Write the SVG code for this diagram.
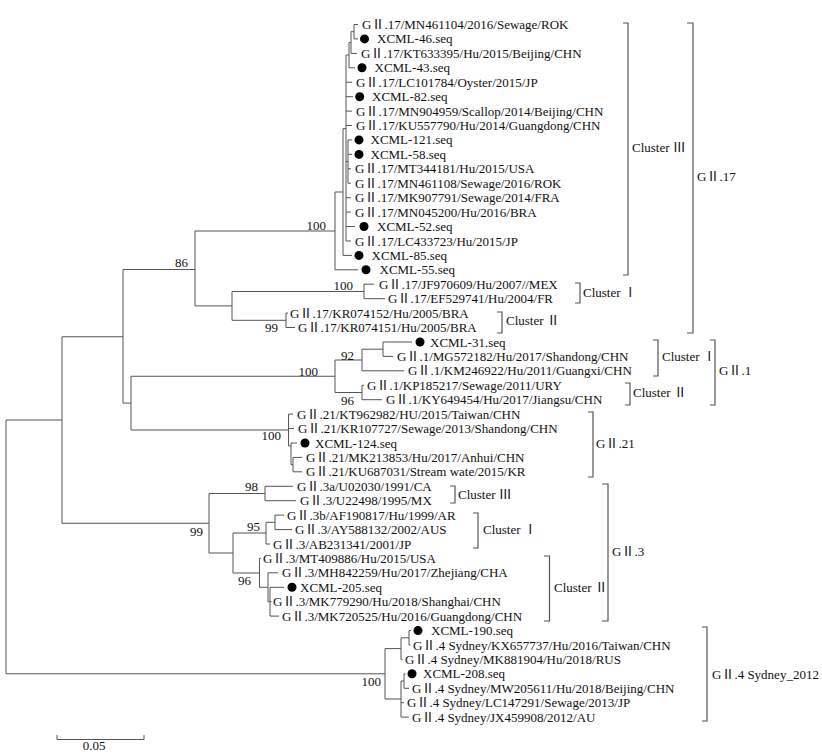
<svg xmlns="http://www.w3.org/2000/svg" width="822" height="755" viewBox="0 0 822 755">
<style>
text{font-family:"Liberation Serif","Noto Sans CJK SC",serif;font-size:13px;fill:#111}
.bs{text-anchor:end}
.ln{fill:none;stroke:#555;stroke-width:1}
.br{fill:none;stroke:#555;stroke-width:1.2}
.dot{fill:#000}
</style>
<rect width="822" height="755" fill="#fff"/>
<g id="connectors" class="ln">
<path d="M6 420V673.8M6 420H62M6 673.8H385"/>
<path d="M62 336.75V523.25M62 336.75H123M62 523.25H209"/>
<path d="M123 269.5V403.1M123 269.5H195M123 403.1H131"/>
<path d="M195 231V305.9M195 231H335M195 305.9H232"/>
<path d="M335 192V269.8M335 192H343M335 269.8H358"/>
<path d="M343 128.6V255.4M343 128.6H346M343 255.4H352"/>
<path d="M346 55V241M346 161.5H348M346 55H349"/>
<path d="M348 139.9V183.2"/>
<path d="M349 42.5V67.8M349 42.5H351M349 67.8H355"/>
<path d="M351 31.7V53.4M351 31.7H354M351 53.4H357"/>
<path d="M354 24.5V38.9M354 24.5H358M354 38.9H358"/>
<path d="M346 82.2H352M346 96.7H353M346 111.1H352M346 125.5H352M348 139.9H352M348 154.4H352M348 168.8H351M348 183.2H351M346 197.7H351M346 212.1H351M346 226.5H355M346 241H351"/>
<path d="M232 291.5V320.3M232 291.5H364M232 320.3H286"/>
<path d="M364 284.2V298.7M364 284.2H374M364 298.7H385"/>
<path d="M286 313.1V327.5M286 313.1H288M286 327.5H295"/>
<path d="M131 376.25V430M131 376.25H335M131 430H288.5"/>
<path d="M335 360V392.5M335 360H362M335 392.5H362"/>
<path d="M362 349.2V370.8M362 349.2H383M362 370.8H404"/>
<path d="M383 342V356.4M383 342H412M383 356.4H393"/>
<path d="M362 385.3V399.7M362 385.3H364M362 399.7H382"/>
<path d="M288.5 414.1V445.9M288.5 414.1H293M288.5 428.5H294M288.5 445.9H291"/>
<path d="M291 443V464.6M291 443H297M291 464.6H293"/>
<path d="M293 457.4V471.8M293 457.4H302M293 471.8H302"/>
<path d="M209 493.5V553M209 493.5H265M209 553H233"/>
<path d="M265 486.3V500.7M265 486.3H293M265 500.7H296"/>
<path d="M233 533V573M233 533H266M233 573H259.5"/>
<path d="M266 522.3V544M266 522.3H275M266 544H270"/>
<path d="M275 515.1V529.6M275 515.1H284M275 529.6H292"/>
<path d="M259.5 558.4V587.3M259.5 558.4H261M259.5 587.3H268"/>
<path d="M268 572.8V601.7M268 572.8H278M268 601.7H270"/>
<path d="M270 587.3V616.1M270 587.3H284M270 601.7H271.5M270 616.1H279"/>
<path d="M385 648.6V699M385 648.6H401M385 699H401"/>
<path d="M401 637.8V659.4M401 637.8H409M401 659.4H402.5"/>
<path d="M409 630.6V645M409 630.6H411M409 645H410.5"/>
<path d="M401 681V717.1M401 681H404M401 702.7H404M401 717.1H409"/>
<path d="M404 673.8V688.3M404 673.8H405.5M404 688.3H409"/>
</g>
<g id="bootstrap">
<text class="bs" x="326" y="229.5">100</text>
<text class="bs" x="188" y="267">86</text>
<text class="bs" x="353" y="289.5">100</text>
<text class="bs" x="278" y="331.5">99</text>
<text class="bs" x="354" y="359.5">92</text>
<text class="bs" x="318" y="376">100</text>
<text class="bs" x="354" y="404.5">96</text>
<text class="bs" x="281" y="439.5">100</text>
<text class="bs" x="258" y="491">98</text>
<text class="bs" x="203" y="535.5">99</text>
<text class="bs" x="260" y="531">95</text>
<text class="bs" x="251" y="584.5">96</text>
<text class="bs" x="381" y="686">100</text>
</g>
<g id="leaf-MN461104"><text x="362" y="29">GⅡ.17/MN461104/2016/Sewage/ROK</text></g>
<g id="leaf-XCML-46"><circle class="dot" cx="364.5" cy="38.9" r="4.5"/><text x="377" y="43.4">XCML-46.seq</text></g>
<g id="leaf-KT633395"><text x="361" y="57.9">GⅡ.17/KT633395/Hu/2015/Beijing/CHN</text></g>
<g id="leaf-XCML-43"><circle class="dot" cx="362" cy="67.8" r="4.5"/><text x="374.5" y="72.3">XCML-43.seq</text></g>
<g id="leaf-LC101784"><text x="356" y="86.7">GⅡ.17/LC101784/Oyster/2015/JP</text></g>
<g id="leaf-XCML-82"><circle class="dot" cx="359.7" cy="96.7" r="4.5"/><text x="372" y="101.2">XCML-82.seq</text></g>
<g id="leaf-MN904959"><text x="356" y="115.6">GⅡ.17/MN904959/Scallop/2014/Beijing/CHN</text></g>
<g id="leaf-KU557790"><text x="356" y="130">GⅡ.17/KU557790/Hu/2014/Guangdong/CHN</text></g>
<g id="leaf-XCML-121"><circle class="dot" cx="359" cy="139.9" r="4.5"/><text x="370.5" y="144.4">XCML-121.seq</text></g>
<g id="leaf-XCML-58"><circle class="dot" cx="359" cy="154.4" r="4.5"/><text x="370.5" y="158.9">XCML-58.seq</text></g>
<g id="leaf-MT344181"><text x="355" y="173.3">GⅡ.17/MT344181/Hu/2015/USA</text></g>
<g id="leaf-MN461108"><text x="355" y="187.7">GⅡ.17/MN461108/Sewage/2016/ROK</text></g>
<g id="leaf-MK907791"><text x="355" y="202.2">GⅡ.17/MK907791/Sewage/2014/FRA</text></g>
<g id="leaf-MN045200"><text x="355" y="216.6">GⅡ.17/MN045200/Hu/2016/BRA</text></g>
<g id="leaf-XCML-52"><circle class="dot" cx="364" cy="226.5" r="4.5"/><text x="377" y="231">XCML-52.seq</text></g>
<g id="leaf-LC433723"><text x="355" y="245.5">GⅡ.17/LC433723/Hu/2015/JP</text></g>
<g id="leaf-XCML-85"><circle class="dot" cx="359" cy="255.4" r="4.5"/><text x="371.5" y="259.9">XCML-85.seq</text></g>
<g id="leaf-XCML-55"><circle class="dot" cx="366" cy="269.8" r="4.5"/><text x="379.5" y="274.3">XCML-55.seq</text></g>
<g id="leaf-JF970609"><text x="379" y="288.7">GⅡ.17/JF970609/Hu/2007//MEX</text></g>
<g id="leaf-EF529741"><text x="388" y="303.2">GⅡ.17/EF529741/Hu/2004/FR</text></g>
<g id="leaf-KR074152"><text x="290" y="317.6">GⅡ.17/KR074152/Hu/2005/BRA</text></g>
<g id="leaf-KR074151"><text x="298" y="332">GⅡ.17/KR074151/Hu/2005/BRA</text></g>
<g id="leaf-XCML-31"><circle class="dot" cx="420" cy="342" r="4.5"/><text x="430" y="346.5">XCML-31.seq</text></g>
<g id="leaf-MG572182"><text x="397" y="360.9">GⅡ.1/MG572182/Hu/2017/Shandong/CHN</text></g>
<g id="leaf-KM246922"><text x="408" y="375.3">GⅡ.1/KM246922/Hu/2011/Guangxi/CHN</text></g>
<g id="leaf-KP185217"><text x="367" y="389.8">GⅡ.1/KP185217/Sewage/2011/URY</text></g>
<g id="leaf-KY649454"><text x="386" y="404.2">GⅡ.1/KY649454/Hu/2017/Jiangsu/CHN</text></g>
<g id="leaf-KT962982"><text x="297" y="418.6">GⅡ.21/KT962982/HU/2015/Taiwan/CHN</text></g>
<g id="leaf-KR107727"><text x="298" y="433">GⅡ.21/KR107727/Sewage/2013/Shandong/CHN</text></g>
<g id="leaf-XCML-124"><circle class="dot" cx="305" cy="443" r="4.5"/><text x="315" y="447.5">XCML-124.seq</text></g>
<g id="leaf-MK213853"><text x="306" y="461.9">GⅡ.21/MK213853/Hu/2017/Anhui/CHN</text></g>
<g id="leaf-KU687031"><text x="306" y="476.3">GⅡ.21/KU687031/Stream wate/2015/KR</text></g>
<g id="leaf-U02030"><text x="297" y="490.8">GⅡ.3a/U02030/1991/CA</text></g>
<g id="leaf-U22498"><text x="300" y="505.2">GⅡ.3/U22498/1995/MX</text></g>
<g id="leaf-AF190817"><text x="287" y="519.6">GⅡ.3b/AF190817/Hu/1999/AR</text></g>
<g id="leaf-AY588132"><text x="295" y="534.1">GⅡ.3/AY588132/2002/AUS</text></g>
<g id="leaf-AB231341"><text x="273" y="548.5">GⅡ.3/AB231341/2001/JP</text></g>
<g id="leaf-MT409886"><text x="263" y="562.9">GⅡ.3/MT409886/Hu/2015/USA</text></g>
<g id="leaf-MH842259"><text x="282" y="577.3">GⅡ.3/MH842259/Hu/2017/Zhejiang/CHA</text></g>
<g id="leaf-XCML-205"><circle class="dot" cx="292" cy="587.3" r="4.5"/><text x="300" y="591.8">XCML-205.seq</text></g>
<g id="leaf-MK779290"><text x="273" y="606.2">GⅡ.3/MK779290/Hu/2018/Shanghai/CHN</text></g>
<g id="leaf-MK720525"><text x="282" y="620.6">GⅡ.3/MK720525/Hu/2016/Guangdong/CHN</text></g>
<g id="leaf-XCML-190"><circle class="dot" cx="418" cy="630.6" r="4.5"/><text x="431" y="635.1">XCML-190.seq</text></g>
<g id="leaf-KX657737"><text x="413" y="649.5">GⅡ.4 Sydney/KX657737/Hu/2016/Taiwan/CHN</text></g>
<g id="leaf-MK881904"><text x="405" y="663.9">GⅡ.4 Sydney/MK881904/Hu/2018/RUS</text></g>
<g id="leaf-XCML-208"><circle class="dot" cx="412" cy="673.8" r="4.5"/><text x="423" y="678.3">XCML-208.seq</text></g>
<g id="leaf-MW205611"><text x="412" y="692.8">GⅡ.4 Sydney/MW205611/Hu/2018/Beijing/CHN</text></g>
<g id="leaf-LC147291"><text x="407" y="707.2">GⅡ.4 Sydney/LC147291/Sewage/2013/JP</text></g>
<g id="leaf-JX459908"><text x="412" y="721.6">GⅡ.4 Sydney/JX459908/2012/AU</text></g>
<g id="bracket-17-III"><path class="br" d="M623 23H628V275H623"/><text x="632" y="151.5">Cluster Ⅲ</text></g>
<g id="bracket-GII17"><path class="br" d="M687 23H693V333H687"/><text x="697" y="180.5">GⅡ.17</text></g>
<g id="bracket-17-I"><path class="br" d="M575 283H580V303H575"/><text x="583" y="296.5">Cluster Ⅰ</text></g>
<g id="bracket-17-II"><path class="br" d="M497 312H502V333H497"/><text x="506" y="324.5">Cluster Ⅱ</text></g>
<g id="bracket-1-I"><path class="br" d="M653 340H658V376H653"/><text x="662" y="360.5">Cluster Ⅰ</text></g>
<g id="bracket-1-II"><path class="br" d="M625 383H630V405H625"/><text x="633" y="396.5">Cluster Ⅱ</text></g>
<g id="bracket-GII1"><path class="br" d="M710 340H715V405H710"/><text x="719" y="374.5">GⅡ.1</text></g>
<g id="bracket-GII21"><path class="br" d="M588 412H593V477H588"/><text x="596" y="447.5">GⅡ.21</text></g>
<g id="bracket-3-III"><path class="br" d="M450 486H455V503H450"/><text x="458" y="498.5">Cluster Ⅲ</text></g>
<g id="bracket-3-I"><path class="br" d="M473 513H478V548H473"/><text x="483" y="533.5">Cluster Ⅰ</text></g>
<g id="bracket-3-II"><path class="br" d="M544 556H549.5V621H544"/><text x="554" y="591.5">Cluster Ⅱ</text></g>
<g id="bracket-GII3"><path class="br" d="M602 484H608V621H602"/><text x="612" y="555.5">GⅡ.3</text></g>
<g id="bracket-GII4"><path class="br" d="M702 627H707V721H702"/><text x="712" y="678.5">GⅡ.4 Sydney_2012</text></g>
<g id="scale-bar"><path class="ln" d="M57 735V739.5H144V735"/><text x="94" y="750" text-anchor="middle">0.05</text></g>
</svg>
